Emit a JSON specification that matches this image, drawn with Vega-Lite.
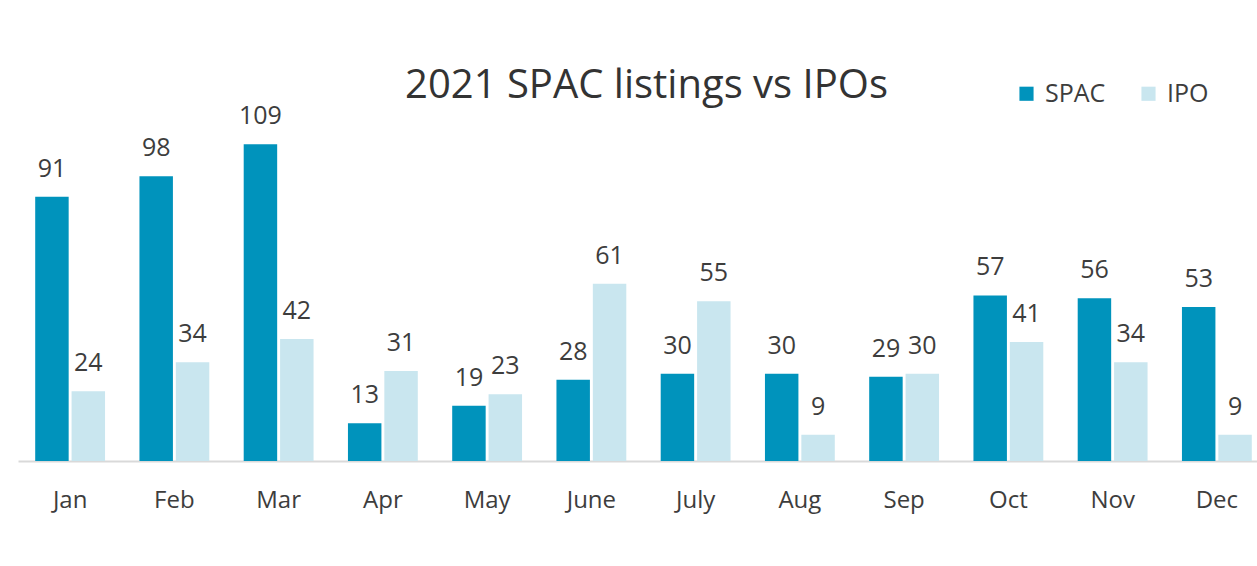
{
  "$schema": "https://vega.github.io/schema/vega-lite/v6.json",
  "autosize": {"type": "none"},
  "width": 1239,
  "height": 407,
  "padding": {"left": 18, "top": 54, "right": 0, "bottom": 105},
  "background": "white",
  "title": {
    "text": "2021 SPAC listings vs IPOs",
    "anchor": "middle",
    "fontSize": 40,
    "font": "Open Sans",
    "fontWeight": "normal",
    "color": "#333333",
    "offset": 0,
    "dx": 9,
    "dy": 52
  },
  "config": {
    "view": {"stroke": null},
    "font": "Open Sans"
  },
  "data": {
    "values": [
      {"month": "Jan", "type": "SPAC", "count": 91},
      {"month": "Jan", "type": "IPO", "count": 24},
      {"month": "Feb", "type": "SPAC", "count": 98},
      {"month": "Feb", "type": "IPO", "count": 34},
      {"month": "Mar", "type": "SPAC", "count": 109},
      {"month": "Mar", "type": "IPO", "count": 42},
      {"month": "Apr", "type": "SPAC", "count": 13},
      {"month": "Apr", "type": "IPO", "count": 31},
      {"month": "May", "type": "SPAC", "count": 19},
      {"month": "May", "type": "IPO", "count": 23},
      {"month": "June", "type": "SPAC", "count": 28},
      {"month": "June", "type": "IPO", "count": 61},
      {"month": "July", "type": "SPAC", "count": 30},
      {"month": "July", "type": "IPO", "count": 55},
      {"month": "Aug", "type": "SPAC", "count": 30},
      {"month": "Aug", "type": "IPO", "count": 9},
      {"month": "Sep", "type": "SPAC", "count": 29},
      {"month": "Sep", "type": "IPO", "count": 30},
      {"month": "Oct", "type": "SPAC", "count": 57},
      {"month": "Oct", "type": "IPO", "count": 41},
      {"month": "Nov", "type": "SPAC", "count": 56},
      {"month": "Nov", "type": "IPO", "count": 34},
      {"month": "Dec", "type": "SPAC", "count": 53},
      {"month": "Dec", "type": "IPO", "count": 9}
    ]
  },
  "encoding": {
    "x": {
      "field": "month",
      "type": "nominal",
      "sort": null,
      "scale": {"range": [0, 1251], "paddingInner": 0.33, "paddingOuter": 0.165},
      "axis": {
        "title": null,
        "labelAngle": 0,
        "labelFontSize": 24,
        "labelColor": "#3d3d3d",
        "labelPadding": 27,
        "ticks": false,
        "domainColor": "#d9d9d9",
        "domainWidth": 2
      }
    },
    "xOffset": {
      "field": "type",
      "type": "nominal",
      "sort": ["SPAC", "IPO"],
      "scale": {"paddingInner": 0.08}
    },
    "y": {
      "field": "count",
      "type": "quantitative",
      "scale": {"domain": [0, 140.1], "nice": false},
      "axis": null
    }
  },
  "layer": [
    {
      "mark": {"type": "bar"},
      "encoding": {
        "color": {
          "field": "type",
          "type": "nominal",
          "sort": ["SPAC", "IPO"],
          "scale": {"domain": ["SPAC", "IPO"], "range": ["#0093BC", "#C9E6EF"]},
          "legend": {
            "title": null,
            "orient": "none",
            "direction": "horizontal",
            "legendX": 996,
            "legendY": 27,
            "symbolType": "square",
            "symbolSize": 200,
            "symbolStrokeWidth": 0,
            "labelFontSize": 25,
            "labelColor": "#3d3d3d",
            "labelOffset": 6,
            "columnPadding": 30
          }
        }
      }
    },
    {
      "mark": {"type": "text", "baseline": "alphabetic", "dy": -20, "fontSize": 25, "color": "#3d3d3d"},
      "encoding": {
        "text": {"field": "count", "type": "quantitative"}
      }
    }
  ]
}
